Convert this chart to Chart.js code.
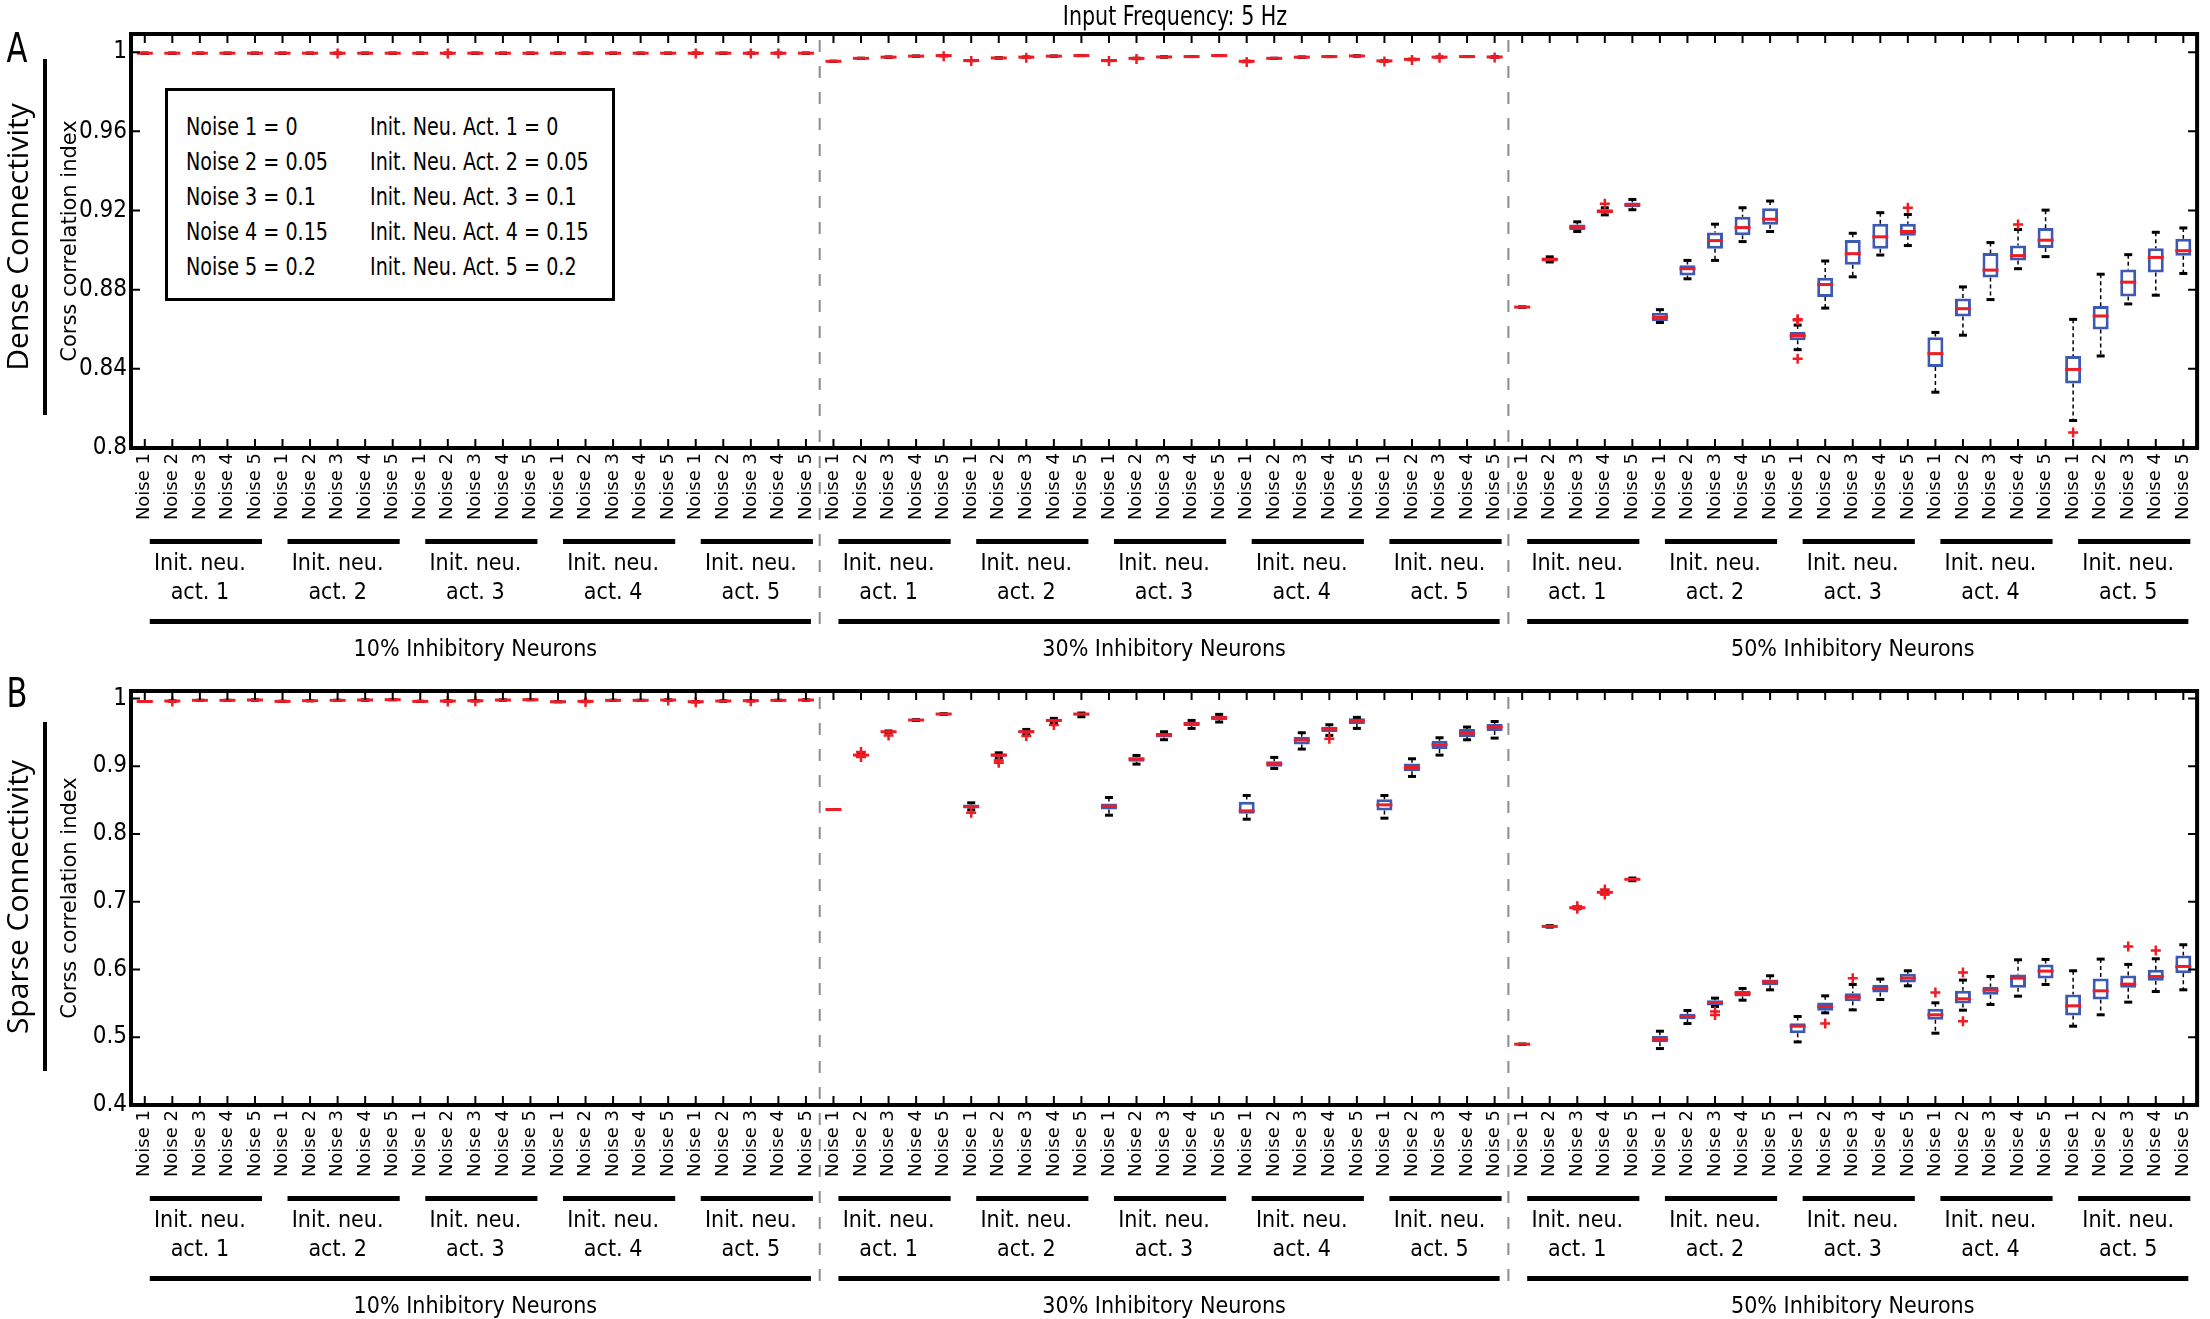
<!DOCTYPE html>
<html>
<head>
<meta charset="utf-8">
<title>Input Frequency: 5 Hz</title>
<script src="https://cdn.jsdelivr.net/npm/chart.js@4.4.1/dist/chart.umd.min.js"></script>
<style>
  html, body { margin: 0; padding: 0; background: #fff; }
  body { position: relative; width: 2210px; height: 1319px; overflow: hidden; color: #000;
         font-family: 'Liberation Sans Narrow', 'DejaVu Sans Condensed', 'Liberation Sans', sans-serif; }
  .panel { position: absolute; left: 0; width: 2210px; }
  #panelA { top: 0; height: 672px; }
  #panelB { top: 672px; height: 647px; }
  .title { position: absolute; left: 1175px; top: 15px; transform: translate(-50%, -50%) scaleX(0.85);
           font-size: 27px; line-height: 1; white-space: nowrap; }
  .letter { position: absolute; font-size: 40px; line-height: 1; transform: translate(-50%, -50%) scaleX(0.85); }
  .side { position: absolute; font-family: 'Open Sans', sans-serif; font-size: 30px; line-height: 1; white-space: nowrap;
          transform: translate(-50%, -50%) rotate(-90deg); }
  .side-line { position: absolute; left: 43px; width: 4px; background: #000; }
  .legend { position: absolute; left: 165px; top: 88px; width: 450px; height: 213px; box-sizing: border-box;
            border: 3px solid #000; background: #fff; display: grid; grid-template-columns: 184px auto;
            grid-auto-rows: 35px; font-size: 25px; line-height: 35px; padding: 18px 0 0 18px; white-space: nowrap; }
  .legend div { transform: scaleX(0.85); transform-origin: left center; }
</style>
</head>
<body>
<div class="panel" id="panelA"><canvas id="chartA"></canvas></div>
<div class="panel" id="panelB"><canvas id="chartB"></canvas></div>
<div class="title">Input Frequency: 5 Hz</div>
<div class="letter" style="left:17px; top:48px">A</div>
<div class="side" style="left:17px; top:237px">Dense Connectivity</div>
<div class="side-line" style="top:59px; height:356px"></div>
<div class="letter" style="left:17px; top:693px">B</div>
<div class="side" style="left:17px; top:897px">Sparse Connectivity</div>
<div class="side-line" style="top:722px; height:349px"></div>
<div class="legend" id="legend"></div>
<script>
const NARROW = "'Liberation Sans Narrow', 'DejaVu Sans Condensed', 'Liberation Sans', sans-serif";
const WIDE = "'DejaVu Sans', Verdana, sans-serif";

// labels
const noiseLabels = ['Noise 1', 'Noise 2', 'Noise 3', 'Noise 4', 'Noise 5'];
const actLabels = [['Init. neu.', 'act. 1'], ['Init. neu.', 'act. 2'], ['Init. neu.', 'act. 3'],
                   ['Init. neu.', 'act. 4'], ['Init. neu.', 'act. 5']];
const inhibLabels = ['10% Inhibitory Neurons', '30% Inhibitory Neurons', '50% Inhibitory Neurons'];
const levelValues = ['0', '0.05', '0.1', '0.15', '0.2'];
const yTitle = 'Corss correlation index';
const yTicksDense = [0.8, 0.84, 0.88, 0.92, 0.96, 1];
const yTicksSparse = [0.4, 0.5, 0.6, 0.7, 0.8, 0.9, 1];

const xLabels = inhibLabels.flatMap(() => actLabels.flatMap(() => noiseLabels));
const groupLabels = inhibLabels.flatMap(() => actLabels);

// A: dense connectivity (whisker low, q1, median, q3, whisker high)
const denseLo = [
  0.9995, 0.9995, 0.9995, 0.9995, 0.9995,  0.9995, 0.9995, 0.9995, 0.9995, 0.9995,
  0.9995, 0.9995, 0.9995, 0.9995, 0.9995,  0.9995, 0.9995, 0.9995, 0.9995, 0.9995,
  0.9995, 0.9995, 0.9995, 0.9995, 0.9995,
  0.9954, 0.9969, 0.9975, 0.998, 0.9983,  0.9958, 0.9971, 0.9975, 0.998, 0.9983,
  0.9958, 0.9969, 0.9976, 0.9978, 0.9983,  0.9954, 0.9969, 0.9975, 0.9978, 0.9981,
  0.9956, 0.9964, 0.9975, 0.9978, 0.9976,
  0.8712, 0.894, 0.9094, 0.9178, 0.9204,  0.8634, 0.8855, 0.8948, 0.9043, 0.9094,
  0.8497, 0.8707, 0.8865, 0.8975, 0.9023,  0.8282, 0.857, 0.875, 0.8906, 0.8967,
  0.8139, 0.8465, 0.8728, 0.8772, 0.8882
];
const denseQ1 = [
  0.9995, 0.9995, 0.9995, 0.9995, 0.9995,  0.9995, 0.9995, 0.9995, 0.9995, 0.9995,
  0.9995, 0.9995, 0.9995, 0.9995, 0.9995,  0.9995, 0.9995, 0.9995, 0.9995, 0.9995,
  0.9995, 0.9995, 0.9995, 0.9995, 0.9995,
  0.9954, 0.9969, 0.9975, 0.998, 0.9983,  0.9958, 0.9971, 0.9975, 0.998, 0.9983,
  0.9958, 0.9969, 0.9976, 0.9978, 0.9983,  0.9954, 0.9969, 0.9975, 0.9978, 0.9981,
  0.9956, 0.9964, 0.9975, 0.9978, 0.9976,
  0.8712, 0.8943, 0.9102, 0.9187, 0.9216,  0.8641, 0.8872, 0.9007, 0.9075, 0.9128,
  0.8545, 0.8763, 0.8926, 0.9007, 0.9072,  0.8409, 0.8665, 0.8862, 0.8948, 0.9011,
  0.8326, 0.8599, 0.8765, 0.8887, 0.8972
];
const denseMed = [
  0.9995, 0.9995, 0.9995, 0.9995, 0.9995,  0.9995, 0.9995, 0.9995, 0.9995, 0.9995,
  0.9995, 0.9995, 0.9995, 0.9995, 0.9995,  0.9995, 0.9995, 0.9995, 0.9995, 0.9995,
  0.9995, 0.9995, 0.9995, 0.9995, 0.9995,
  0.9954, 0.9969, 0.9975, 0.998, 0.9983,  0.9958, 0.9971, 0.9975, 0.998, 0.9983,
  0.9958, 0.9969, 0.9976, 0.9978, 0.9983,  0.9954, 0.9969, 0.9975, 0.9978, 0.9981,
  0.9956, 0.9964, 0.9975, 0.9978, 0.9976,
  0.8712, 0.8953, 0.9116, 0.9195, 0.9229,  0.866, 0.8906, 0.9048, 0.9114, 0.9156,
  0.8568, 0.8826, 0.8982, 0.9067, 0.9094,  0.8477, 0.8704, 0.8899, 0.8972, 0.905,
  0.8397, 0.8667, 0.8838, 0.8963, 0.8997
];
const denseQ3 = [
  0.9995, 0.9995, 0.9995, 0.9995, 0.9995,  0.9995, 0.9995, 0.9995, 0.9995, 0.9995,
  0.9995, 0.9995, 0.9995, 0.9995, 0.9995,  0.9995, 0.9995, 0.9995, 0.9995, 0.9995,
  0.9995, 0.9995, 0.9995, 0.9995, 0.9995,
  0.9954, 0.9969, 0.9975, 0.998, 0.9983,  0.9958, 0.9971, 0.9975, 0.998, 0.9983,
  0.9958, 0.9969, 0.9976, 0.9978, 0.9983,  0.9954, 0.9969, 0.9975, 0.9978, 0.9981,
  0.9956, 0.9964, 0.9975, 0.9978, 0.9976,
  0.8712, 0.8963, 0.9129, 0.9207, 0.9241,  0.8684, 0.8923, 0.9089, 0.9168, 0.9212,
  0.8587, 0.886, 0.9051, 0.9133, 0.9133,  0.856, 0.8755, 0.8985, 0.9023, 0.9112,
  0.8465, 0.8717, 0.8902, 0.9009, 0.9058
];
const denseHi = [
  0.9995, 0.9995, 0.9995, 0.9995, 0.9995,  0.9995, 0.9995, 0.9995, 0.9995, 0.9995,
  0.9995, 0.9995, 0.9995, 0.9995, 0.9995,  0.9995, 0.9995, 0.9995, 0.9995, 0.9995,
  0.9995, 0.9995, 0.9995, 0.9995, 0.9995,
  0.9954, 0.9969, 0.9975, 0.998, 0.9983,  0.9958, 0.9971, 0.9975, 0.998, 0.9983,
  0.9958, 0.9969, 0.9976, 0.9978, 0.9983,  0.9954, 0.9969, 0.9975, 0.9978, 0.9981,
  0.9956, 0.9964, 0.9975, 0.9978, 0.9976,
  0.8712, 0.8966, 0.9143, 0.9214, 0.9256,  0.8699, 0.8948, 0.9131, 0.9214, 0.9248,
  0.8621, 0.8945, 0.9085, 0.9189, 0.918,  0.8584, 0.8814, 0.9038, 0.9104, 0.9202,
  0.865, 0.8878, 0.8977, 0.909, 0.9112
];
// outliers: [category index, value]
const denseOut = [
  [7, 0.9993], [11, 0.9993], [20, 0.9993], [22, 0.9993], [23, 0.9993],
  [29, 0.998], [30, 0.9955], [32, 0.9972], [35, 0.9955], [36, 0.9966], [40, 0.9951],
  [45, 0.9953], [46, 0.9961], [47, 0.9972], [49, 0.9973],
  [53, 0.9234], [60, 0.8651], [60, 0.8645], [60, 0.8451], [64, 0.9214], [68, 0.9129], [70, 0.8078]
];

// B: sparse connectivity
const sparseLo = [
  0.9955, 0.9962, 0.9972, 0.9972, 0.9977,  0.9957, 0.9967, 0.9972, 0.9977, 0.9982,
  0.9957, 0.9962, 0.9967, 0.9977, 0.9982,  0.9952, 0.9957, 0.9972, 0.9972, 0.9977,
  0.9952, 0.9962, 0.9967, 0.9972, 0.9977,
  0.8361, 0.9145, 0.9495, 0.9675, 0.9765,  0.8355, 0.912, 0.9465, 0.9635, 0.973,
  0.8277, 0.9031, 0.9391, 0.9558, 0.9652,  0.8218, 0.8967, 0.9253, 0.9455, 0.9558,
  0.8233, 0.8849, 0.9164, 0.939, 0.9415,
  0.4897, 0.6625, 0.6895, 0.7115, 0.731,  0.4833, 0.5202, 0.5454, 0.5547, 0.57,
  0.4931, 0.536, 0.5404, 0.5557, 0.5759,  0.506, 0.5399, 0.5483, 0.5606, 0.5779,
  0.5163, 0.5331, 0.5518, 0.5675, 0.57
];
const sparseQ1 = [
  0.9955, 0.9962, 0.9972, 0.9972, 0.9977,  0.9957, 0.9967, 0.9972, 0.9977, 0.9982,
  0.9957, 0.9962, 0.9967, 0.9977, 0.9982,  0.9952, 0.9957, 0.9972, 0.9972, 0.9977,
  0.9952, 0.9962, 0.9967, 0.9972, 0.9977,
  0.8361, 0.915, 0.9502, 0.9678, 0.9767,  0.8376, 0.914, 0.9489, 0.9652, 0.975,
  0.836, 0.9065, 0.9425, 0.9593, 0.9681,  0.8297, 0.8992, 0.9322, 0.9504, 0.9622,
  0.8346, 0.8927, 0.9253, 0.943, 0.9519,
  0.4897, 0.663, 0.6905, 0.713, 0.7322,  0.4927, 0.5266, 0.5468, 0.5601, 0.5769,
  0.5059, 0.539, 0.5533, 0.5661, 0.5808,  0.5257, 0.5498, 0.5626, 0.573, 0.5868,
  0.5321, 0.5557, 0.573, 0.5833, 0.5946
];
const sparseMed = [
  0.9955, 0.9962, 0.9972, 0.9972, 0.9977,  0.9957, 0.9967, 0.9972, 0.9977, 0.9982,
  0.9957, 0.9962, 0.9967, 0.9977, 0.9982,  0.9952, 0.9957, 0.9972, 0.9972, 0.9977,
  0.9952, 0.9962, 0.9967, 0.9972, 0.9977,
  0.8361, 0.9164, 0.9509, 0.9681, 0.977,  0.8405, 0.9164, 0.9509, 0.9676, 0.977,
  0.841, 0.9105, 0.946, 0.9627, 0.9716,  0.8341, 0.9036, 0.9386, 0.9548, 0.9667,
  0.843, 0.8982, 0.9317, 0.9489, 0.9578,
  0.4897, 0.6636, 0.6912, 0.7139, 0.7331,  0.4971, 0.5306, 0.5513, 0.5646, 0.5818,
  0.5163, 0.5454, 0.5592, 0.572, 0.5872,  0.5331, 0.5567, 0.5695, 0.5872, 0.5976,
  0.5464, 0.5685, 0.5784, 0.5897, 0.6045
];
const sparseQ3 = [
  0.9955, 0.9962, 0.9972, 0.9972, 0.9977,  0.9957, 0.9967, 0.9972, 0.9977, 0.9982,
  0.9957, 0.9962, 0.9967, 0.9977, 0.9982,  0.9952, 0.9957, 0.9972, 0.9972, 0.9977,
  0.9952, 0.9962, 0.9967, 0.9972, 0.9977,
  0.8361, 0.9175, 0.9516, 0.9684, 0.9773,  0.8435, 0.9189, 0.9529, 0.9696, 0.978,
  0.845, 0.9134, 0.9489, 0.9657, 0.9745,  0.8474, 0.9075, 0.9435, 0.9583, 0.9706,
  0.8514, 0.9041, 0.9376, 0.9548, 0.9622,
  0.4897, 0.6642, 0.692, 0.7148, 0.734,  0.502, 0.5345, 0.5547, 0.5685, 0.5853,
  0.5207, 0.5513, 0.5651, 0.5774, 0.5937,  0.5419, 0.5685, 0.5744, 0.5927, 0.6074,
  0.5631, 0.5868, 0.5912, 0.5996, 0.6208
];
const sparseHi = [
  0.9955, 0.9962, 0.9972, 0.9972, 0.9977,  0.9957, 0.9967, 0.9972, 0.9977, 0.9982,
  0.9957, 0.9962, 0.9967, 0.9977, 0.9982,  0.9952, 0.9957, 0.9972, 0.9972, 0.9977,
  0.9952, 0.9962, 0.9967, 0.9972, 0.9977,
  0.8361, 0.918, 0.952, 0.9687, 0.9775,  0.846, 0.9198, 0.9543, 0.9706, 0.9785,
  0.8538, 0.9159, 0.9509, 0.9676, 0.9765,  0.8568, 0.913, 0.9494, 0.9612, 0.9721,
  0.8568, 0.911, 0.942, 0.9578, 0.966,
  0.4897, 0.6647, 0.6928, 0.716, 0.735,  0.5089, 0.5395, 0.5577, 0.572, 0.5907,
  0.5306, 0.5611, 0.5779, 0.5858, 0.5981,  0.5508, 0.5843, 0.5897, 0.6143, 0.6148,
  0.5981, 0.6153, 0.6075, 0.6158, 0.6365
];
const sparseOut = [
  [1, 0.9954], [11, 0.9954], [12, 0.9959], [16, 0.9949], [19, 0.9969], [20, 0.9944], [22, 0.9959],
  [26, 0.921], [26, 0.9135], [27, 0.9455], [30, 0.8312], [31, 0.9085], [31, 0.905],
  [32, 0.9445], [33, 0.9607], [43, 0.9405],
  [52, 0.6935], [52, 0.6895], [53, 0.718], [53, 0.7105], [57, 0.538], [57, 0.533],
  [61, 0.5202], [62, 0.5872], [65, 0.5661], [66, 0.5956], [66, 0.5237], [72, 0.6341], [73, 0.6281]
];

// legend box
const legend = document.getElementById('legend');
levelValues.forEach((v, i) => {
  const a = document.createElement('div');
  a.textContent = 'Noise ' + (i + 1) + ' = ' + v;
  const b = document.createElement('div');
  b.textContent = 'Init. Neu. Act. ' + (i + 1) + ' = ' + v;
  legend.appendChild(a);
  legend.appendChild(b);
});

const BLUE = '#3c5ab4';
const RED = '#ee1c25';
const nNoise = noiseLabels.length;
const perInhib = nNoise * actLabels.length;

function boxDatasets(lo, q1, med, q3, hi, out) {
  const idx = xLabels.map((_, i) => i);
  const whiskers = [];
  idx.forEach(i => {
    whiskers.push({x: i, y: hi[i]}, {x: i, y: q3[i]}, {x: i, y: null},
                  {x: i, y: q1[i]}, {x: i, y: lo[i]}, {x: i, y: null});
  });
  return [
    {type: 'line', data: whiskers, borderColor: '#000', borderWidth: 1.5, borderDash: [4, 3],
     pointRadius: 0, spanGaps: false, order: 5},
    {type: 'bar', data: idx.map(i => ({x: i, y: [q1[i], q3[i]]})), backgroundColor: '#fff',
     borderColor: BLUE, borderWidth: 3, borderSkipped: false, barPercentage: 0.58, categoryPercentage: 1, order: 4},
    {type: 'scatter', data: idx.flatMap(i => [{x: i, y: lo[i]}, {x: i, y: hi[i]}]),
     pointStyle: 'line', pointRadius: 4, pointBorderWidth: 3, pointBorderColor: '#000', order: 3},
    {type: 'scatter', data: idx.map(i => ({x: i, y: med[i]})),
     pointStyle: 'line', pointRadius: 8, pointBorderWidth: 3, pointBorderColor: RED, order: 2},
    {type: 'scatter', data: out.map(([i, v]) => ({x: i, y: v})),
     pointStyle: 'cross', pointRadius: 5, pointBorderWidth: 2.5, pointBorderColor: RED, order: 1}
  ];
}

// dashed separators, frame with inward ticks, group bars
const decorPlugin = {
  id: 'decor',
  beforeDatasetsDraw(chart) {
    const {ctx, chartArea: a, scales: {x, x3}} = chart;
    ctx.save();
    ctx.strokeStyle = '#8c8c8c';
    ctx.lineWidth = 2;
    ctx.setLineDash([12, 14]);
    for (let k = 1; k < inhibLabels.length; k++) {
      const px = x.getPixelForValue(k * perInhib - 0.5);
      ctx.beginPath();
      ctx.moveTo(px, a.top + 6);
      ctx.lineTo(px, x3.top + 19);
      ctx.stroke();
    }
    ctx.restore();
  },
  afterDraw(chart) {
    const {ctx, chartArea: a, scales: {x, y, x2, x3}} = chart;
    ctx.save();
    ctx.strokeStyle = '#000';
    ctx.lineWidth = 2;
    ctx.beginPath();
    x.ticks.forEach(t => {
      const px = x.getPixelForValue(t.value);
      ctx.moveTo(px, a.top); ctx.lineTo(px, a.top + 9);
      ctx.moveTo(px, a.bottom); ctx.lineTo(px, a.bottom - 9);
    });
    y.ticks.forEach(t => {
      const py = y.getPixelForValue(t.value);
      ctx.moveTo(a.left, py); ctx.lineTo(a.left + 9, py);
      ctx.moveTo(a.right, py); ctx.lineTo(a.right - 9, py);
    });
    ctx.stroke();
    ctx.lineWidth = 4;
    ctx.strokeRect(a.left, a.top, a.right - a.left, a.bottom - a.top);
    ctx.fillStyle = '#000';
    groupLabels.forEach((_, g) => {
      const x0 = x.getPixelForValue(g * nNoise) + 5;
      const x1 = x.getPixelForValue(g * nNoise + nNoise - 1) + 7;
      ctx.fillRect(x0, x2.top + 11, x1 - x0, 5);
    });
    inhibLabels.forEach((_, k) => {
      const x0 = x.getPixelForValue(k * perInhib) + 5;
      const x1 = x.getPixelForValue(k * perInhib + perInhib - 1) + 5;
      ctx.fillRect(x0, x3.top + 11, x1 - x0, 5);
    });
    ctx.restore();
  }
};

function makeChart(id, datasets, yMin, yMax, yTicks, pad) {
  return new Chart(document.getElementById(id), {
    type: 'bar',
    data: {datasets},
    plugins: [decorPlugin],
    options: {
      responsive: true,
      maintainAspectRatio: false,
      animation: false,
      events: [],
      layout: {padding: pad},
      plugins: {legend: {display: false}, tooltip: {enabled: false}},
      scales: {
        x: {
          type: 'linear', min: -0.5, max: xLabels.length - 0.5, offset: false, weight: 0,
          afterBuildTicks: s => { s.ticks = xLabels.map((_, i) => ({value: i})); },
          afterFit: s => { s.height = 80; },
          ticks: {callback: v => xLabels[v], minRotation: 90, maxRotation: 90, autoSkip: false,
                  padding: 5, color: '#000', font: {family: WIDE, size: 18}},
          grid: {display: false, drawTicks: false},
          border: {display: false}
        },
        x2: {
          type: 'linear', position: 'bottom', display: true, min: -0.5, max: xLabels.length - 0.5,
          offset: false, weight: 1,
          afterBuildTicks: s => { s.ticks = groupLabels.map((_, g) => ({value: g * nNoise + (nNoise - 1) / 2})); },
          afterFit: s => { s.height = 80; },
          ticks: {callback: (v, i) => groupLabels[i], maxRotation: 0, minRotation: 0, autoSkip: false,
                  padding: 22, color: '#000', font: {family: NARROW, size: 23, lineHeight: 1.25}},
          grid: {display: false, drawTicks: false},
          border: {display: false}
        },
        x3: {
          type: 'linear', position: 'bottom', display: true, min: -0.5, max: xLabels.length - 0.5,
          offset: false, weight: 2,
          afterBuildTicks: s => { s.ticks = inhibLabels.map((_, k) => ({value: k * perInhib + (perInhib - 1) / 2})); },
          afterFit: s => { s.height = 54; },
          ticks: {callback: (v, i) => inhibLabels[i], maxRotation: 0, minRotation: 0, autoSkip: false,
                  padding: 28, color: '#000', font: {family: NARROW, size: 23, lineHeight: 1.2}},
          grid: {display: false, drawTicks: false},
          border: {display: false}
        },
        y: {
          type: 'linear', min: yMin, max: yMax,
          afterBuildTicks: s => { s.ticks = yTicks.map(v => ({value: v})); },
          afterFit: s => { s.width = 131; },
          ticks: {callback: v => String(v), padding: 4, color: '#000', font: {family: NARROW, size: 24}},
          grid: {display: false, drawTicks: false},
          border: {display: false},
          title: {display: true, text: yTitle, color: '#000', font: {family: WIDE, size: 21},
                  padding: {top: 58, bottom: 0}}
        }
      }
    }
  });
}

makeChart('chartA', boxDatasets(denseLo, denseQ1, denseMed, denseQ3, denseHi, denseOut),
          0.8, 1.0092, yTicksDense, {top: 34, right: 3, bottom: 10, left: 0});
makeChart('chartB', boxDatasets(sparseLo, sparseQ1, sparseMed, sparseQ3, sparseHi, sparseOut),
          0.4, 1.011, yTicksSparse, {top: 19, right: 3, bottom: 0, left: 0});
</script>
</body>
</html>
